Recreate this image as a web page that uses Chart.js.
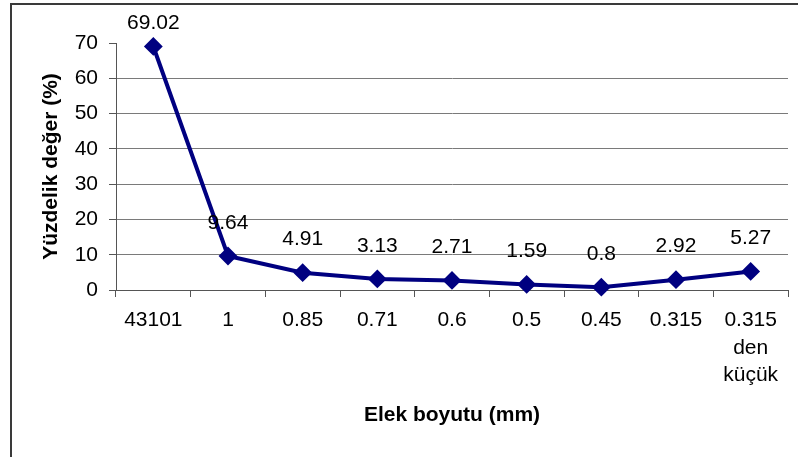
<!DOCTYPE html>
<html>
<head>
<meta charset="utf-8">
<script src="https://cdn.jsdelivr.net/npm/chart.js@4"></script>
<style>
  html, body { margin: 0; padding: 0; background: #fff; }
  #wrap { width: 798px; height: 457px; position: relative; }
</style>
</head>
<body>
<div id="wrap"><canvas id="c" width="798" height="457"></canvas></div>
<script>
// Sieve sizes (mm) and the percentage retained on each
const categories = ['43101', '1', '0.85', '0.71', '0.6', '0.5', '0.45', '0.315', ['0.315', 'den', 'küçük']];
const percentValues = [69.02, 9.64, 4.91, 3.13, 2.71, 1.59, 0.8, 2.92, 5.27];
const yTicks = [0, 10, 20, 30, 40, 50, 60, 70];

const FONT = 'Arial, "Liberation Sans", sans-serif';
const NAVY = '#000080';

// Outer frame and white background
const framePlugin = {
  id: 'frame',
  beforeDraw(chart) {
    const ctx = chart.ctx;
    ctx.save();
    ctx.fillStyle = '#ffffff';
    ctx.fillRect(0, 0, chart.width, chart.height);
    ctx.strokeStyle = '#3a3a3a';
    ctx.lineWidth = 2;
    ctx.strokeRect(11, 4, chart.width + 10, chart.height + 10);
    ctx.restore();
  }
};

// Value labels above each marker
const valueLabels = {
  id: 'valueLabels',
  afterDatasetsDraw(chart) {
    const ctx = chart.ctx;
    const meta = chart.getDatasetMeta(0);
    ctx.save();
    ctx.font = '21px ' + FONT;
    ctx.fillStyle = '#000';
    ctx.textAlign = 'center';
    ctx.textBaseline = 'middle';
    meta.data.forEach((pt, i) => {
      const y = Math.max(pt.y - 33, 23);
      ctx.fillText(String(percentValues[i]), pt.x, y);
    });
    ctx.restore();
  }
};

new Chart(document.getElementById('c'), {
  type: 'line',
  data: {
    labels: categories,
    datasets: [{
      data: percentValues,
      borderColor: NAVY,
      backgroundColor: NAVY,
      borderWidth: 4,
      pointStyle: 'rectRot',
      pointRadius: 8,
      pointBorderWidth: 2,
      pointBorderColor: NAVY,
      pointBackgroundColor: NAVY,
      tension: 0,
      fill: false,
      clip: false
    }]
  },
  options: {
    responsive: false,
    animation: false,
    devicePixelRatio: 1,
    layout: { padding: { top: 43, right: 9, left: 0, bottom: 0 } },
    plugins: {
      legend: { display: false },
      tooltip: { enabled: false }
    },
    scales: {
      x: {
        offset: true,
        afterFit(scale) { scale.height = 167; },
        grid: {
          offset: true,
          drawOnChartArea: false,
          drawTicks: true,
          tickLength: 7,
          color: '#555'
        },
        border: { color: '#555', width: 1 },
        ticks: {
          color: '#000',
          padding: 10,
          maxRotation: 0,
          autoSkip: false,
          font: { family: FONT, size: 21, lineHeight: 1.3 }
        },
        title: {
          display: true,
          text: 'Elek boyutu (mm)',
          color: '#000',
          font: { family: FONT, size: 21, weight: 'bold', lineHeight: 1.2 },
          padding: { top: 0, bottom: 29 }
        }
      },
      y: {
        min: 0,
        max: 70,
        afterFit(scale) { scale.width = 116; },
        afterBuildTicks(scale) { scale.ticks = yTicks.map(v => ({ value: v })); },
        grid: {
          drawTicks: true,
          tickLength: 7,
          color(ctx) {
            const v = ctx.tick ? ctx.tick.value : null;
            return v === 70 ? 'rgba(0,0,0,0)' : '#7a7a7a';
          },
          tickColor: '#555'
        },
        border: { color: '#555', width: 1 },
        ticks: {
          color: '#000',
          padding: 11,
          font: { family: FONT, size: 21 }
        },
        title: {
          display: true,
          text: 'Yüzdelik değer (%)',
          color: '#000',
          font: { family: FONT, size: 21, weight: 'bold', lineHeight: 1.2 },
          padding: { top: 39, bottom: 0 }
        }
      }
    }
  },
  plugins: [framePlugin, valueLabels]
});
</script>
</body>
</html>
